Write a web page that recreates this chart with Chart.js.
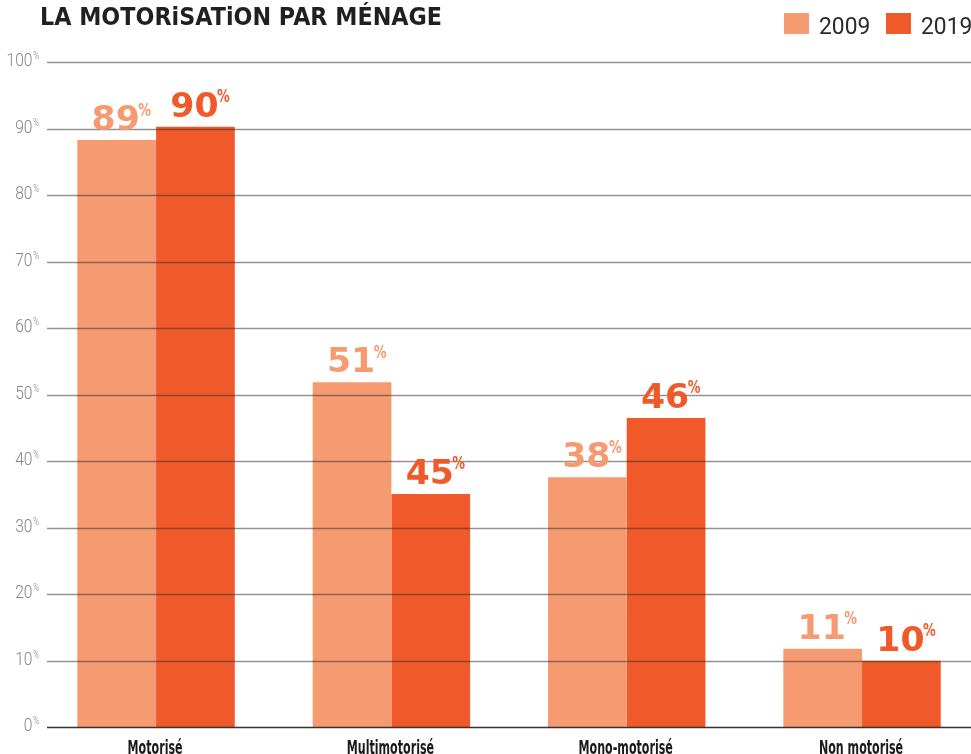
<!DOCTYPE html>
<html><head><meta charset="utf-8">
<script src="https://cdn.jsdelivr.net/npm/chart.js@4/dist/chart.umd.min.js"></script>
<style>
html,body{margin:0;padding:0;background:#fff;overflow:hidden;width:971px;height:754px}
#wrap{width:990px;height:754px;position:relative}
canvas{display:block}
</style>
</head><body><div id="wrap"><canvas id="c" width="990" height="754"></canvas></div>
<script>
const chartTitle = 'LA MOTORiSATiON PAR MÉNAGE';
const categories = ['Motorisé', 'Multimotorisé', 'Mono-motorisé', 'Non motorisé'];
const seriesNames = ['2009', '2019'];
const values2009 = [88.3, 51.9, 37.6, 11.8];
const values2019 = [90.3, 35.1, 46.5, 10.0];
const valueLabels2009 = ['89', '51', '38', '11'];
const valueLabels2019 = ['90', '45', '46', '10'];
const yTicks = [0, 10, 20, 30, 40, 50, 60, 70, 80, 90, 100];

const COLOR_2009 = '#F69B71';
const COLOR_2019 = '#F05A2B';

function drawScaled(ctx, text, x, y, sx, align) {
  const w = ctx.measureText(text).width * sx;
  let left = x;
  if (align === 'center') left = x - w / 2;
  else if (align === 'right') left = x - w;
  ctx.save();
  ctx.translate(left, y);
  ctx.scale(sx, 1);
  ctx.textAlign = 'left';
  ctx.fillText(text, 0, 0);
  ctx.restore();
  return w;
}

const overlay = {
  id: 'overlay',
  afterDatasetsDraw(chart) {
    const ctx = chart.ctx;
    const ys = chart.scales.y;
    const xs = chart.scales.x;
    ctx.save();
    // grid lines over bars
    yTicks.forEach(v => {
      const y = Math.round(ys.getPixelForValue(v)) + 0.5;
      ctx.beginPath();
      ctx.moveTo(47, y);
      ctx.lineTo(990, y);
      ctx.strokeStyle = v === 0 ? 'rgba(30,30,30,0.9)' : 'rgba(40,40,40,0.5)';
      ctx.lineWidth = v === 0 ? 1.6 : 1.3;
      ctx.stroke();
      // tick label
      ctx.fillStyle = '#858585';
      ctx.textBaseline = 'alphabetic';
      ctx.font = '300 19px "Roboto", sans-serif';
      drawScaled(ctx, String(v), 32.5, y + 3, 0.82, 'right');
      ctx.font = '300 10px "Roboto", sans-serif';
      ctx.textBaseline = 'top';
      drawScaled(ctx, '%', 33.3, y - 11, 0.8, 'left');
    });

    // value labels
    const labelSets = [valueLabels2009, valueLabels2019];
    const colors = [COLOR_2009, COLOR_2019];
    [0, 1].forEach(d => {
      const meta = chart.getDatasetMeta(d);
      meta.data.forEach((el, i) => {
        const txt = labelSets[d][i];
        const cx = el.x - 1;
        const base = el.y - 10;
        ctx.fillStyle = colors[d];
        ctx.textBaseline = 'alphabetic';
        ctx.font = 'bold 33px "DejaVu Sans", sans-serif';
        const w = drawScaled(ctx, txt, cx, base, 1.05, 'center');
        ctx.font = 'bold 17px "DejaVu Sans", sans-serif';
        ctx.textBaseline = 'top';
        drawScaled(ctx, '%', cx + w / 2 - 1.5, base - 27.5, 0.75, 'left');
      });
    });

    // category labels
    ctx.fillStyle = '#1a1a1a';
    ctx.textBaseline = 'alphabetic';
    ctx.font = 'bold 20px "DejaVu Sans Condensed", "DejaVu Sans", sans-serif';
    const k = 55 / ctx.measureText(categories[0]).width;
    categories.forEach((c, i) => {
      drawScaled(ctx, c, xs.getPixelForValue(i) - 1, 753.5, k, 'center');
    });

    // title
    ctx.fillStyle = '#231F20';
    ctx.font = 'bold 25px "DejaVu Sans", sans-serif';
    const kt = 402 / ctx.measureText(chartTitle).width;
    drawScaled(ctx, chartTitle, 40, 24.5, kt, 'left');

    // legend
    const legendBoxes = [784, 886];
    ctx.font = '24px "Roboto", sans-serif';
    seriesNames.forEach((s, i) => {
      ctx.fillStyle = colors[i];
      ctx.fillRect(legendBoxes[i], 13, 25, 21);
      ctx.fillStyle = '#2b2b2b';
      ctx.textBaseline = 'alphabetic';
      drawScaled(ctx, s, legendBoxes[i] + 35, 33.5, 0.95, 'left');
    });
    ctx.restore();
  }
};

new Chart(document.getElementById('c'), {
  type: 'bar',
  data: {
    labels: categories,
    datasets: [
      { label: seriesNames[0], data: values2009, backgroundColor: COLOR_2009 },
      { label: seriesNames[1], data: values2019, backgroundColor: COLOR_2019 }
    ]
  },
  options: {
    responsive: false,
    animation: false,
    devicePixelRatio: 1,
    layout: { padding: { left: 38.4, right: 10.3, top: 62.3, bottom: 26.7 } },
    datasets: { bar: { categoryPercentage: 0.669, barPercentage: 1.0, borderWidth: 0 } },
    scales: {
      x: { display: false },
      y: { display: false, min: 0, max: 100 }
    },
    plugins: { legend: { display: false }, title: { display: false }, tooltip: { enabled: false } }
  },
  plugins: [overlay]
});
</script>
</body></html>
